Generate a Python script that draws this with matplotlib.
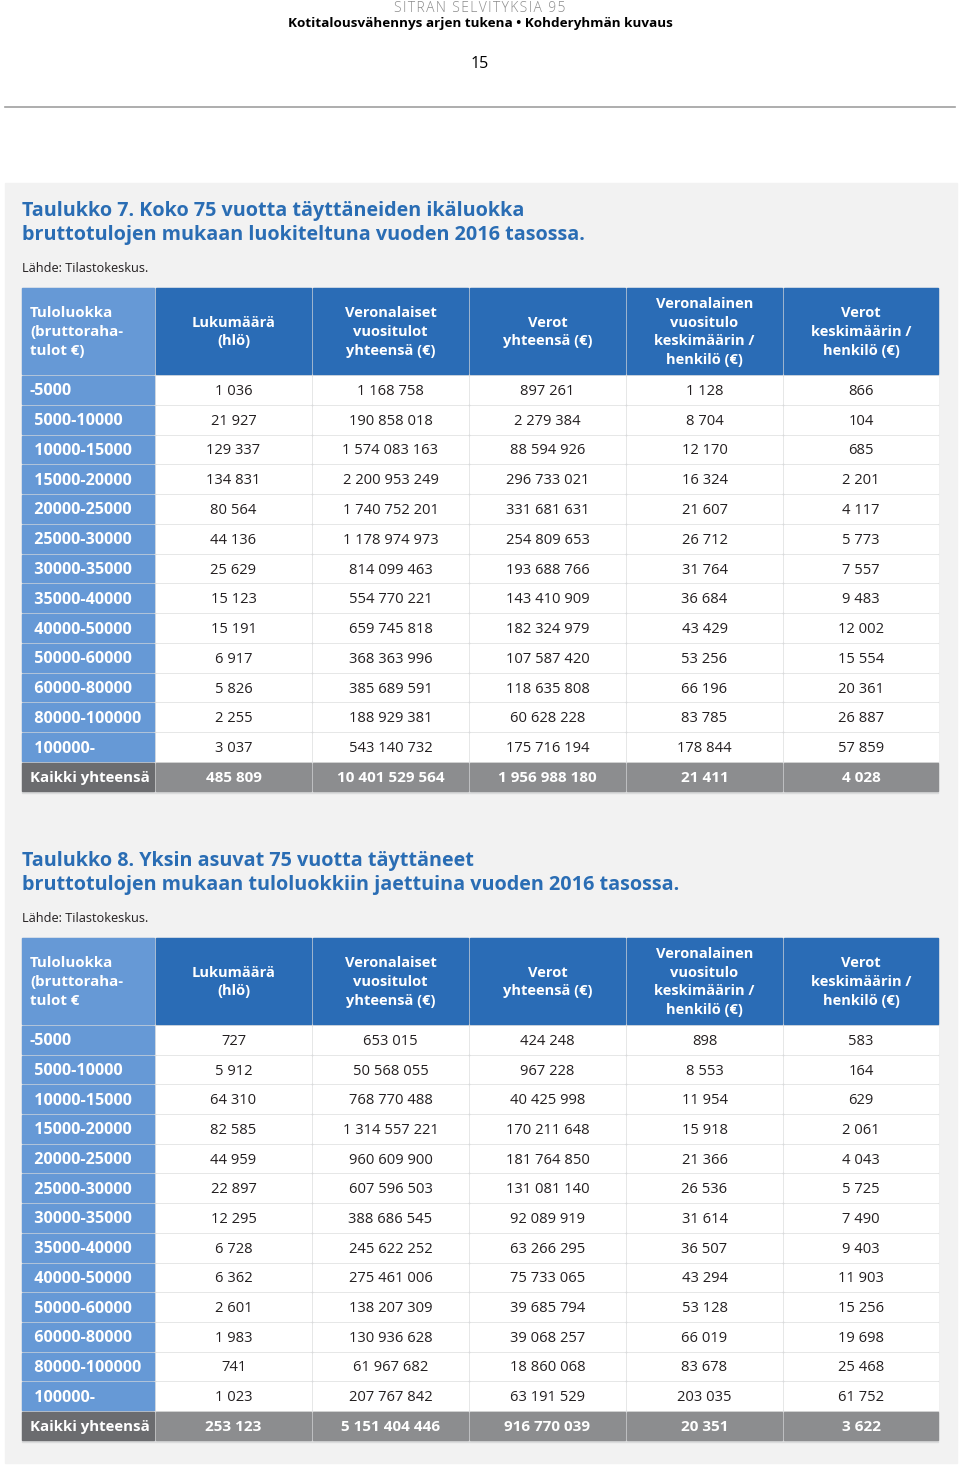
import matplotlib
matplotlib.use('Agg')
import matplotlib.pyplot as plt
from matplotlib.patches import Rectangle

plt.rcParams['font.family'] = ['Open Sans', 'DejaVu Sans']

# Income classes (shared by both tables)
classes = ['-5000', ' 5000-10000', ' 10000-15000', ' 15000-20000', ' 20000-25000',
           ' 25000-30000', ' 30000-35000', ' 35000-40000', ' 40000-50000',
           ' 50000-60000', ' 60000-80000', ' 80000-100000', ' 100000-']
total_label = 'Kaikki yhteensä'

# Taulukko 7
t7_count = [1036, 21927, 129337, 134831, 80564, 44136, 25629, 15123, 15191, 6917, 5826, 2255, 3037]
t7_income = [1168758, 190858018, 1574083163, 2200953249, 1740752201, 1178974973, 814099463,
             554770221, 659745818, 368363996, 385689591, 188929381, 543140732]
t7_tax = [897261, 2279384, 88594926, 296733021, 331681631, 254809653, 193688766,
          143410909, 182324979, 107587420, 118635808, 60628228, 175716194]
t7_avg_income = [1128, 8704, 12170, 16324, 21607, 26712, 31764, 36684, 43429, 53256, 66196, 83785, 178844]
t7_avg_tax = [866, 104, 685, 2201, 4117, 5773, 7557, 9483, 12002, 15554, 20361, 26887, 57859]
t7_total = [485809, 10401529564, 1956988180, 21411, 4028]

# Taulukko 8
t8_count = [727, 5912, 64310, 82585, 44959, 22897, 12295, 6728, 6362, 2601, 1983, 741, 1023]
t8_income = [653015, 50568055, 768770488, 1314557221, 960609900, 607596503, 388686545,
             245622252, 275461006, 138207309, 130936628, 61967682, 207767842]
t8_tax = [424248, 967228, 40425998, 170211648, 181764850, 131081140, 92089919,
          63266295, 75733065, 39685794, 39068257, 18860068, 63191529]
t8_avg_income = [898, 8553, 11954, 15918, 21366, 26536, 31614, 36507, 43294, 53128, 66019, 83678, 203035]
t8_avg_tax = [583, 164, 629, 2061, 4043, 5725, 7490, 9403, 11903, 15256, 19698, 25468, 61752]
t8_total = [253123, 5151404446, 916770039, 20351, 3622]

headers_common = ['Lukumäärä\n(hlö)', 'Veronalaiset\nvuositulot\nyhteensä (€)', 'Verot\nyhteensä (€)',
                  'Veronalainen\nvuositulo\nkeskimäärin /\nhenkilö (€)', 'Verot\nkeskimäärin /\nhenkilö (€)']
t7_headers = ['Tuloluokka\n(bruttoraha-\ntulot €)'] + headers_common
t8_headers = ['Tuloluokka\n(bruttoraha-\ntulot €'] + headers_common

t7_title = 'Taulukko 7. Koko 75 vuotta täyttäneiden ikäluokka\nbruttotulojen mukaan luokiteltuna vuoden 2016 tasossa.'
t8_title = 'Taulukko 8. Yksin asuvat 75 vuotta täyttäneet\nbruttotulojen mukaan tuloluokkiin jaettuina vuoden 2016 tasossa.'
source = 'Lähde: Tilastokeskus.'

# colours
BLUE_TITLE = '#2a6db4'
BLUE_HEAD = '#2a6cb6'
BLUE_FIRST = '#6699d6'
GRAY_TOTAL = '#8c8d8f'
GRAY_TOTAL0 = '#6b6c6f'
PANEL = '#f2f2f2'
GRID = '#dadbdc'
TEXT = '#231f20'


def fmt(v):
    return f'{v:,}'.replace(',', ' ')


fig = plt.figure(figsize=(9.6, 14.67), dpi=100)
ax = fig.add_axes([0, 0, 1, 1])
ax.set_xlim(0, 960)
ax.set_ylim(1467, 0)
ax.axis('off')

# page header
ax.text(480, 8, '\u200a'.join('SITRAN SELVITYKSIÄ 95'), ha='center', va='center', fontsize=10,
        color='#8a8a8a', fontweight='light')
ax.text(480, 24, 'Kotitalousvähennys arjen tukena • Kohderyhmän kuvaus', ha='center', va='center',
        fontsize=9.7, fontweight='bold', color='black')
ax.text(480, 64, '15', ha='center', va='center', fontsize=11.5, color='black')
ax.plot([5, 955], [107, 107], color='#a0a0a0', lw=1.2)

# grey panel
ax.add_patch(Rectangle((5, 183), 952, 1280, color=PANEL, zorder=0))

col_w = [132, 155, 155, 155, 155, 154]
gap = 2
x0 = 22
col_left = []
x = x0
for w in col_w:
    col_left.append(x)
    x += w + gap
table_right = col_left[-1] + col_w[-1]


def draw_table(top, title, headers, cols, total, pitch):
    ax.text(22, top - 65, title, ha='left', va='center', fontsize=14.2, fontweight='bold',
            color=BLUE_TITLE, linespacing=1.3)
    ax.text(22, top - 20, source, ha='left', va='center', fontsize=9.2, color=TEXT)
    head_h = 86
    n = len(classes) + 1
    body_top = top + head_h + 2
    # background showing as grid lines
    ax.add_patch(Rectangle((x0, top), table_right - x0, head_h + 2 + n * pitch, color=GRID, zorder=1))
    for j, h in enumerate(headers):
        ax.add_patch(Rectangle((col_left[j], top), col_w[j], head_h,
                               color=BLUE_FIRST if j == 0 else BLUE_HEAD, zorder=2))
        if j == 0:
            ax.text(col_left[j] + 8, top + head_h / 2 + 1, h, ha='left', va='center', fontsize=10.8,
                    fontweight='bold', color='white', linespacing=1.42, zorder=3)
        else:
            ax.text(col_left[j] + col_w[j] / 2, top + head_h / 2 + 1, h, ha='center', va='center',
                    fontsize=10.5, fontweight='bold', color='white', linespacing=1.42, zorder=3)
    rows = [[c] + [fmt(col[i]) for col in cols] for i, c in enumerate(classes)]
    rows.append([total_label] + [fmt(v) for v in total])
    for i, row in enumerate(rows):
        y = body_top + i * pitch
        h = pitch - 2
        last = i == len(rows) - 1
        for j, val in enumerate(row):
            if last:
                fc = GRAY_TOTAL0 if j == 0 else GRAY_TOTAL
            else:
                fc = BLUE_FIRST if j == 0 else 'white'
            ax.add_patch(Rectangle((col_left[j], y), col_w[j], h, color=fc, zorder=2))
            bold = last or j == 0
            tc = 'white' if bold else TEXT
            if j == 0:
                ax.text(col_left[j] + 8, y + h / 2 + 1.5, val, ha='left', va='center',
                        fontsize=10.8 if last else 11.6, fontweight='bold', color=tc, zorder=3)
            else:
                ax.text(col_left[j] + col_w[j] / 2, y + h / 2 + 1.5, val, ha='center', va='center',
                        fontsize=11 if last else 10.6, fontweight='bold' if bold else 'normal',
                        color=tc, zorder=3)


draw_table(288, t7_title, t7_headers,
           [t7_count, t7_income, t7_tax, t7_avg_income, t7_avg_tax], t7_total, 29.77)
draw_table(938, t8_title, t8_headers,
           [t8_count, t8_income, t8_tax, t8_avg_income, t8_avg_tax], t8_total, 29.69)

fig.savefig('out.png', dpi=100)
